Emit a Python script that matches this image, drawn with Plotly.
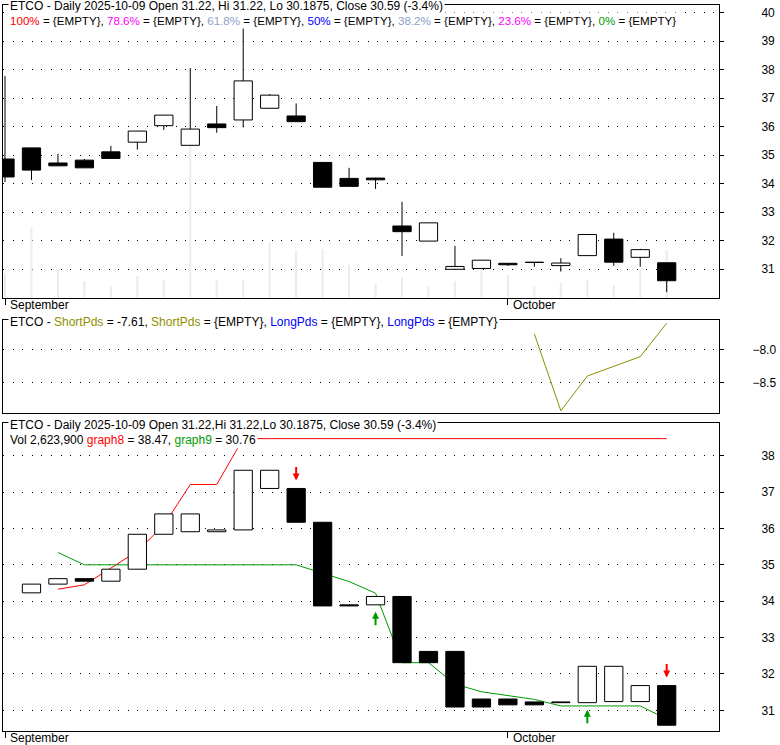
import plotly.graph_objects as go

# trading days shown, one slot per bar
bar_index = list(range(26))
month_ticks = [0, 19]
month_labels = ["September", "October"]

open_ = [34.86, 35.25, 34.72, 34.82, 35.11, 35.45, 36.03, 35.34, 36.09, 36.23,
         36.64, 36.37, 34.74, 34.18, 34.19, 32.51, 31.98, 30.99, 31.02, 31.20,
         31.24, 31.12, 31.47, 32.05, 31.41, 31.22]
high = [37.77, 35.25, 35.04, 34.86, 35.32, 35.84, 36.40, 38.05, 36.72, 39.45,
        37.14, 36.81, 34.74, 34.55, 34.20, 33.36, 32.62, 31.81, 31.31, 31.20,
        31.24, 31.38, 32.21, 32.27, 31.71, 31.22]
low = [34.05, 34.12, 34.62, 34.55, 34.88, 35.19, 35.88, 35.34, 35.78, 35.97,
       36.64, 36.17, 33.87, 33.89, 33.81, 31.46, 31.98, 30.99, 31.02, 31.11,
       31.08, 30.91, 31.47, 31.11, 31.08, 30.1875]
close = [34.23, 34.47, 34.62, 34.55, 34.88, 35.84, 36.40, 35.91, 35.96, 37.60,
         37.10, 36.17, 33.87, 33.90, 34.13, 32.31, 32.62, 31.09, 31.31, 31.15,
         31.23, 31.21, 32.21, 31.24, 31.68, 30.59]
volume = [1340000, 3870000, 1560000, 920000, 610000, 1190000, 970000, 8400000,
          970000, 970000, 3050000, 2580000, 2680000, 1800000, 750000, 1100000,
          610000, 920000, 1620000, 1250000, 610000, 830000, 970000, 700000,
          1490000, 2623900]

# lower pane: close-to-close bodies, hollow (w) or solid (b)
lower_fill = ["", "w", "w", "b", "w", "w", "w", "w", "w", "w", "w", "b", "b",
              "b", "w", "b", "b", "b", "b", "b", "b", "b", "w", "w", "w", "b"]
graph8 = [None, None, 34.33, 34.45, 34.91, 35.38, 36.09, 37.21, 37.21, 38.47,
          38.47, 38.47, 38.47, 38.47, 38.47, 38.47, 38.47, 38.47, 38.47, 38.47,
          38.47, 38.47, 38.47, 38.47, 38.47, 38.47]
graph9 = [None, None, 35.34, 35.0, 35.0, 35.0, 35.0, 35.0, 35.0, 35.0, 35.0,
          35.0, 34.77, 34.54, 34.22, 32.31, 32.31, 31.72, 31.51, 31.41, 31.30,
          31.12, 31.12, 31.12, 31.12, 30.76]
sell_bars = [11, 25]
buy_bars = [14, 22]

short_pds = [None] * 20 + [-7.77, -8.92, -8.40, -8.25, -8.11, -7.61]

price_ticks = [31, 32, 33, 34, 35, 36, 37, 38, 39, 40]
lower_ticks = [31, 32, 33, 34, 35, 36, 37, 38]
short_ticks = [-8.0, -8.5]

fib_labels = ["100%", "78.6%", "61.8%", "50%", "38.2%", "23.6%", "0%"]
fib_colors = ["#ff0000", "#ff00ff", "#8ea2c6", "#0000ff", "#8ea2c6", "#ff00ff", "#009900"]

RED = "#ff0000"
GREEN = "#009900"
OLIVE = "#8f8f00"
FONT = "Arial, Liberation Sans, sans-serif"

fig = go.Figure()

# volume behind the price candles
fig.add_trace(go.Bar(x=bar_index, y=volume, width=0.08, marker_color="#ececec",
                     marker_line_width=0, xaxis="x", yaxis="y"))

# candle bodies
body_base = [min(o, c) for o, c in zip(open_, close)]
body_len = [abs(c - o) for o, c in zip(open_, close)]
body_col = ["white" if c > o else "black" for o, c in zip(open_, close)]
fig.add_trace(go.Bar(x=bar_index, y=body_len, base=body_base, width=0.69,
                     marker=dict(color=body_col, line=dict(color="black", width=1)),
                     xaxis="x", yaxis="y4"))

# wicks, split so they stay outside the bodies
wx, wy = [], []
for i, o, h, l, c in zip(bar_index, open_, high, low, close):
    wx += [i, i, None, i, i, None]
    wy += [h, max(o, c), None, min(o, c), l, None]
fig.add_trace(go.Scatter(x=wx, y=wy, mode="lines", line=dict(color="black", width=1),
                         xaxis="x", yaxis="y4"))

# middle pane
fig.add_trace(go.Scatter(x=bar_index, y=short_pds, mode="lines",
                         line=dict(color=OLIVE, width=1), xaxis="x2", yaxis="y2"))

# lower pane lines (under the bodies)
fig.add_trace(go.Scatter(x=bar_index, y=graph8, mode="lines",
                         line=dict(color=RED, width=1), xaxis="x3", yaxis="y3"))
fig.add_trace(go.Scatter(x=bar_index, y=graph9, mode="lines",
                         line=dict(color=GREEN, width=1), xaxis="x3", yaxis="y3"))

lb_base, lb_len, lb_col = [], [], []
for i in bar_index:
    if i == 0:
        lb_base.append(None)
        lb_len.append(None)
        lb_col.append("white")
        continue
    lb_base.append(min(close[i - 1], close[i]))
    lb_len.append(abs(close[i] - close[i - 1]))
    lb_col.append("white" if lower_fill[i] == "w" else "black")
fig.add_trace(go.Bar(x=bar_index, y=lb_len, base=lb_base, width=0.69,
                     marker=dict(color=lb_col, line=dict(color="black", width=1)),
                     xaxis="x3", yaxis="y5"))

annotations = []
for i in sell_bars:
    annotations.append(dict(x=i, y=max(close[i - 1], close[i]), xref="x3", yref="y3",
                            text="", showarrow=True, ax=0, ay=-15, arrowhead=2,
                            arrowsize=0.7, arrowwidth=2, arrowcolor=RED, yshift=8))
for i in buy_bars:
    annotations.append(dict(x=i, y=min(close[i - 1], close[i]), xref="x3", yref="y3",
                            text="", showarrow=True, ax=0, ay=15, arrowhead=2,
                            arrowsize=0.7, arrowwidth=2, arrowcolor=GREEN, yshift=-7))


def span(txt, col):
    return f"<span style='color:{col}'>{txt}</span>"


title_top = "ETCO - Daily 2025-10-09 Open 31.22, Hi 31.22, Lo 30.1875, Close 30.59 (-3.4%)"
fib_line = ", ".join(f"{span(lab, col)} = {{EMPTY}}" for lab, col in zip(fib_labels, fib_colors))
mid_line = ("ETCO - " + span("ShortPds", OLIVE) + " = -7.61, " + span("ShortPds", OLIVE)
            + " = {EMPTY}, " + span("LongPds", "#0000ff") + " = {EMPTY}, "
            + span("LongPds", "#0000ff") + " = {EMPTY}")
title_low = "ETCO - Daily 2025-10-09 Open 31.22,Hi 31.22,Lo 30.1875, Close 30.59 (-3.4%)"
vol_line = ("Vol 2,623,900 " + span("graph8", RED) + " = 38.47, "
            + span("graph9", GREEN) + " = 30.76")

for txt, ypos, size in [(title_top, 0.9986, 12), (fib_line, 0.978, 11.6),
                        (mid_line, 0.5638, 12), (title_low, 0.4215, 12),
                        (vol_line, 0.4008, 12)]:
    annotations.append(dict(text=txt, x=0.0068, y=ypos, xref="paper", yref="paper",
                            xanchor="left", yanchor="middle", showarrow=False,
                            bgcolor="white", borderpad=1,
                            font=dict(size=size, color="black", family=FONT)))

frame = dict(showline=True, mirror=True, linecolor="black", linewidth=1, zeroline=False)
xcommon = dict(range=[-0.0756, 26.976], showgrid=False, tickmode="array",
               tickvals=month_ticks, ticktext=month_labels, **frame)
xlabels = dict(ticks="outside", ticklen=6, tickcolor="black",
               ticklabelposition="outside right", ticklabelstandoff=-4, ticklabelshift=4)
grid = dict(showgrid=True, gridcolor="black", gridwidth=1, griddash="1px,8.6px")
ycommon = dict(side="right", ticks="outside", ticklen=4, tickcolor="black", **frame)

fig.update_layout(
    width=780, height=745,
    margin=dict(l=3, r=61, t=5, b=14, autoexpand=False),
    paper_bgcolor="white", plot_bgcolor="white",
    showlegend=False, barmode="overlay",
    font=dict(family=FONT, size=12, color="black"),
    xaxis=dict(anchor="y", **xlabels, **xcommon),
    xaxis2=dict(anchor="y2", matches="x", ticks="", showticklabels=False, **xcommon),
    xaxis3=dict(anchor="y3", matches="x", **xlabels, **xcommon),
    yaxis=dict(domain=[0.5968, 1.0], range=[0, 16100000], visible=False),
    yaxis4=dict(overlaying="y", range=[29.993, 40.263], tickvals=price_ticks,
                ticklabelstandoff=35, **grid, **ycommon),
    yaxis2=dict(domain=[0.4376, 0.5661], range=[-8.958, -7.561], tickvals=short_ticks,
                tickformat=".1f", ticklabelstandoff=26, **grid, **ycommon),
    yaxis3=dict(domain=[0.0, 0.4238], range=[30.431, 38.891], tickvals=lower_ticks,
                ticklabelstandoff=35, **grid, **ycommon),
    yaxis5=dict(overlaying="y3", matches="y3", visible=False),
    annotations=annotations,
)

# page body has a default 8px margin; drop it so the figure sits at the window corner
fig.write_html("out.html", config={"displayModeBar": False},
               post_script="document.body.style.margin = '0px';")
